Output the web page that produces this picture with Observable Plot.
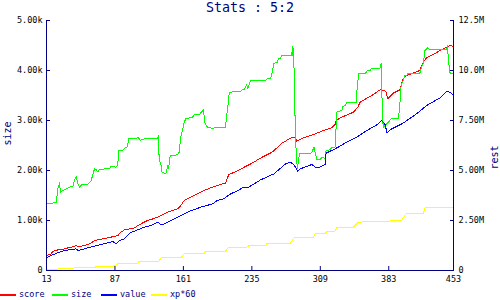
<!DOCTYPE html>
<html><head><meta charset="utf-8">
<script src="https://cdn.jsdelivr.net/npm/d3@7"></script>
<script src="https://cdn.jsdelivr.net/npm/@observablehq/plot@0.6"></script>
<style>
body{margin:0;background:#fff;width:500px;height:300px;overflow:hidden;font-family:"DejaVu Sans Mono",monospace}
#title{height:16px;line-height:16px;text-align:center;font-size:13.3px;color:#000080;white-space:pre}
#chart svg{display:block}
#legend{position:relative;height:12px;font-size:8.5px;color:#000080}
.item{position:absolute;top:0;height:12px}
.sw{position:absolute;top:6px;height:2px;width:16px}
.lb{position:absolute;left:19px;top:0;line-height:12px;white-space:pre}
</style></head>
<body>
<div id="title">Stats : 5:2</div>
<div id="chart"></div>
<div id="legend"></div>
<script>
// x ticks (data units) and axis tick labels
const xTicks = [13, 87, 161, 235, 309, 383, 453];
const sizeTicks = [0, 1000, 2000, 3000, 4000, 5000];
const sizeTickLabels = ["0", "1.00k", "2.00k", "3.00k", "4.00k", "5.00k"];
const restTickLabels = ["0", "2.50M", "5.00M", "7.50M", "10.0M", "12.5M"];
const restPerSize = 2500; // 12.5M on right axis == 5.00k on left axis

// legend
const seriesNames = ["score", "size", "value", "xp*60"];
const seriesColors = ["#ff0000", "#00ff00", "#0000ff", "#ffff00"];

// size (left axis), [x, value]
const sizeSeries = [[13,1330],[23.5,1360],[25.3,1633],[27.1,1753],[28.1,1567],[30.7,1600],[34.3,1633],[37.9,1667],[41.5,1687],[43.3,1800],[45.1,1880],[46.9,1733],[48.7,1667],[51.2,1720],[57.7,1720],[61.3,1800],[64.9,2033],[66.7,2020],[68.5,1973],[70.3,2020],[81.1,2040],[82.9,2087],[88.3,2067],[90.1,2107],[90.8,2400],[95.5,2400],[97.3,2447],[100.2,2467],[102,2633],[112.5,2653],[114.3,2600],[118.6,2633],[133,2633],[134.1,2700],[134.8,2200],[136.6,2133],[137.7,1967],[142,1933],[143.1,2000],[143.8,2100],[144.5,2033],[145.6,2133],[146.7,2300],[154.6,2313],[156.4,2367],[158.2,2667],[160,2800],[161.8,2967],[163.6,3033],[170.8,3067],[172.6,3113],[178.1,3113],[179.9,3160],[182.7,3213],[183.5,3067],[184.5,2933],[187.1,2867],[193.9,2833],[194.6,2867],[197.5,2867],[198.2,2853],[206.5,2853],[207.6,3067],[209,3267],[210.1,3500],[211.2,3567],[222.7,3580],[224.5,3613],[226.3,3613],[228.1,3667],[229.2,3713],[230.7,3633],[232.8,3767],[233.5,3800],[249.8,3800],[251.6,3833],[255.2,3833],[257,3967],[258.8,4147],[262.4,4153],[263.5,4233],[266,4233],[267.1,4300],[277.5,4300],[277.9,4367],[278.6,4300],[279.3,4480],[280.3,4300],[281.5,3200],[283,2300],[284.3,2033],[285.4,2200],[286.5,2333],[298,2333],[299.8,2367],[302.3,2467],[303.4,2367],[305.2,2213],[308.8,2213],[310.6,2267],[314.2,2240],[315.3,2400],[319.6,2413],[321.4,2467],[325,2467],[326.1,2867],[326.9,3167],[332.3,3200],[333.3,3280],[335.8,3300],[337.7,3367],[347.8,3367],[348.5,3567],[349.6,3767],[350.3,3933],[355.7,3933],[357.5,3947],[358.6,3967],[360,4000],[362.9,4000],[364,4033],[373.4,4033],[374.8,4133],[375.6,3500],[377,2850],[378.8,2900],[382.4,2967],[384.2,3000],[386,3040],[393.2,3040],[395,3280],[395.7,3600],[396.8,3733],[398.6,3800],[400.4,3900],[402.2,3900],[404,3947],[416.6,3947],[418.5,4067],[420.3,4133],[422.1,4400],[425,4453],[427.5,4413],[445.5,4413],[446.6,4500],[447.3,4233],[449.1,3967],[449.8,3933],[453,3933]];

// score (right axis, millions), [x, value]
const scoreSeries = [[13,0.75],[18,0.83],[19.8,0.95],[25.3,1.03],[32.5,1.08],[36.1,1.13],[43.3,1.2],[45.1,1.25],[46.9,1.17],[54.1,1.25],[61.3,1.37],[64.9,1.5],[72.1,1.57],[82.9,1.67],[90.1,1.75],[93.7,1.92],[97.3,2.03],[107.8,2.13],[115,2.33],[122.2,2.5],[129.4,2.6],[134.8,2.7],[143.8,2.92],[154.6,3.08],[158.2,3.25],[161.8,3.5],[172.6,3.75],[183.5,4.0],[192.5,4.17],[201.1,4.3],[206.5,4.37],[210.1,4.8],[219.1,4.97],[228.1,5.2],[235.4,5.37],[246.2,5.67],[257,5.92],[267.8,6.37],[278.6,6.67],[281.8,6.67],[283.6,6.47],[290.8,6.63],[301.6,6.8],[314.2,7.03],[321.4,7.13],[325,7.3],[326.1,7.5],[330.5,7.63],[344.9,7.92],[349.6,8.17],[352.1,8.42],[366.5,8.8],[373.4,9.03],[378.8,9.0],[380.6,8.87],[381.7,8.58],[384.2,8.7],[387.8,8.87],[395,9.03],[396.8,9.33],[398.6,9.58],[402.2,9.75],[416.6,10.0],[420.3,10.42],[423.9,10.63],[431.1,10.8],[438.3,11.0],[445.5,11.17],[449.1,11.25],[453,11.2]];

// value (right axis, millions), [x, value]
const valueSeries = [[13,0.63],[18,0.75],[27.1,0.92],[32.5,1.0],[45.1,1.08],[46.9,1.0],[57.7,1.13],[72.1,1.3],[84.7,1.45],[88.3,1.33],[91.9,1.5],[97.3,1.58],[102,1.83],[104.2,1.9],[111.4,2.03],[118.6,2.17],[125.8,2.25],[133,2.42],[136.6,2.3],[140.2,2.33],[151,2.58],[165.4,2.92],[179.9,3.17],[192.5,3.33],[197.5,3.5],[204.7,3.58],[211.9,3.83],[219.1,3.97],[226.3,4.17],[231.7,4.17],[244.4,4.53],[258.8,4.83],[271.4,5.33],[276.8,5.42],[281.1,5.25],[284.3,4.97],[287.2,5.08],[299.8,5.3],[303.4,5.17],[308.8,5.17],[314.2,5.3],[315.3,5.87],[325,6.08],[335.9,6.37],[348.5,6.67],[359.3,7.0],[371.9,7.33],[375.2,7.5],[378.8,7.33],[381.3,6.87],[384.2,7.03],[398.6,7.37],[413,7.83],[423.9,8.25],[438.3,8.63],[445.5,8.95],[449.1,8.92],[452,8.8],[453,8.8]];

// xp*60 (right axis, millions), [x, value]
const xpSeries = [[13,0.03],[23.5,0.03],[25.3,0.08],[39.7,0.08],[43.3,0.13],[64.9,0.13],[66.7,0.22],[86.5,0.22],[90.1,0.33],[111.4,0.33],[113.2,0.47],[134.8,0.47],[136.6,0.63],[158.2,0.63],[161.8,0.83],[183.5,0.83],[185.3,0.97],[206.5,0.97],[210.1,1.17],[229.9,1.17],[231.7,1.23],[249.8,1.23],[251.6,1.37],[276.8,1.37],[278.6,1.5],[281.1,1.67],[301.6,1.67],[303.4,1.83],[314.2,1.83],[316,1.97],[325,1.97],[326.9,2.17],[344.9,2.17],[350.3,2.42],[371.9,2.45],[396.8,2.5],[402.2,2.87],[420.3,2.87],[422.1,3.13],[453,3.13]];

const NAVY = "#000080";
const leftLabel = new Map(sizeTicks.map((t, i) => [t, sizeTickLabels[i]]));
const rightLabel = new Map(sizeTicks.map((t, i) => [t, restTickLabels[i]]));
const restY = d => d[1] * 1e6 / restPerSize;

const lineOpts = (color, y) => ({x: d => d[0], y, stroke: color, strokeWidth: 1, shapeRendering: "crispEdges"});

const chart = Plot.plot({
  width: 500, height: 272,
  marginTop: 4, marginBottom: 18, marginLeft: 46, marginRight: 47,
  x: {domain: [xTicks[0], xTicks[xTicks.length - 1]]},
  y: {domain: [sizeTicks[0], sizeTicks[sizeTicks.length - 1]]},
  style: {fontFamily: "'DejaVu Sans Mono', monospace", fontSize: "8.5px", color: "black", background: "white"},
  marks: [
    Plot.line(scoreSeries, lineOpts(seriesColors[0], restY)),
    Plot.line(sizeSeries, lineOpts(seriesColors[1], d => d[1])),
    Plot.line(valueSeries, lineOpts(seriesColors[2], restY)),
    Plot.line(xpSeries, lineOpts(seriesColors[3], restY)),
    Plot.ruleX([xTicks[0], xTicks[xTicks.length - 1]], {stroke: NAVY, strokeWidth: 1}),
    Plot.ruleY([sizeTicks[0]], {stroke: NAVY, strokeWidth: 1}),
    Plot.axisY(sizeTicks, {anchor: "left", tickSize: -4, tickPadding: 8, tickFormat: d => leftLabel.get(d), label: null, stroke: NAVY, fill: "black"}),
    Plot.axisY(sizeTicks, {anchor: "right", tickSize: -4, tickPadding: 9, tickFormat: d => rightLabel.get(d), label: null, stroke: NAVY, fill: "black"}),
    Plot.axisX(xTicks, {anchor: "bottom", tickSize: -4, tickPadding: 9, tickFormat: d => String(d), label: null, stroke: NAVY, fill: "black"}),
    Plot.text(["size"], {frameAnchor: "left", dx: -39, rotate: -90, text: d => d, fill: NAVY, fontSize: 10}),
    Plot.text(["rest"], {frameAnchor: "right", dx: 41, rotate: -90, text: d => d, fill: NAVY, fontSize: 10})
  ]
});
document.getElementById("chart").appendChild(chart);

const legendLeft = [0, 52, 101, 151];
const legend = document.getElementById("legend");
seriesNames.forEach((name, i) => {
  const it = document.createElement("div");
  it.className = "item";
  it.style.left = legendLeft[i] + "px";
  it.innerHTML = `<div class="sw" style="background:${seriesColors[i]}"></div><div class="lb">${name}</div>`;
  legend.appendChild(it);
});
</script>
</body></html>
